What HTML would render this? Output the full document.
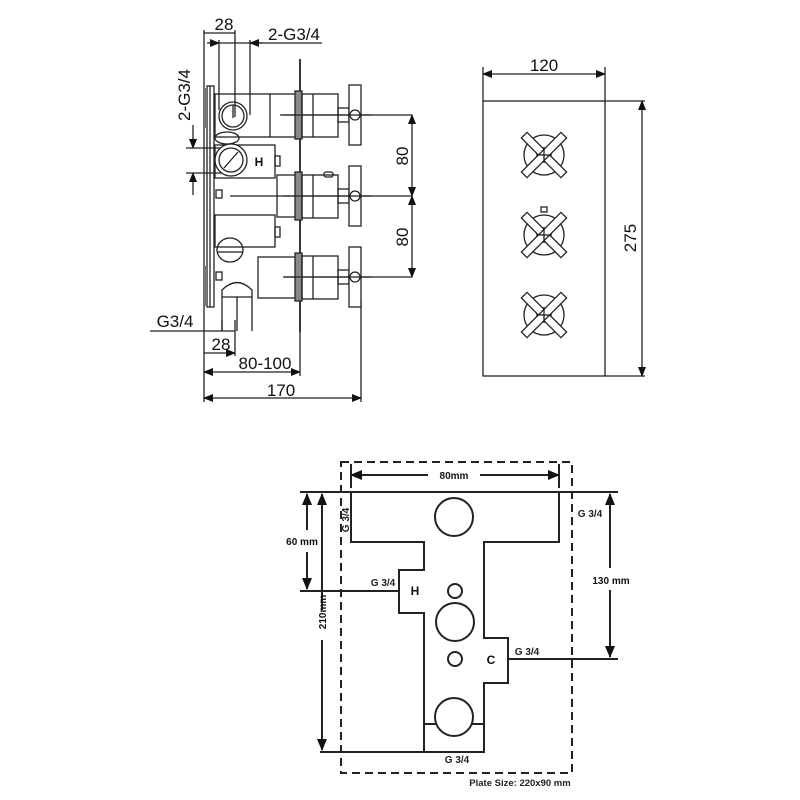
<!DOCTYPE html>
<html><head><meta charset="utf-8"><style>
html,body{margin:0;padding:0;background:#fff;width:800px;height:800px;overflow:hidden}
svg{display:block}
.t{font-family:"Liberation Sans",sans-serif;fill:#111}
.p{font-family:"Liberation Sans",sans-serif;fill:#222;font-size:10px}
</style></head><body>
<svg width="800" height="800" viewBox="0 0 800 800" xmlns="http://www.w3.org/2000/svg">
<defs>
<marker id="a" markerWidth="10" markerHeight="8" refX="9" refY="4" orient="auto-start-reverse" markerUnits="userSpaceOnUse"><path d="M0,0 L10,4 L0,8 Z" fill="#111"/></marker>
<marker id="b" markerWidth="12" markerHeight="10" refX="11" refY="5" orient="auto-start-reverse" markerUnits="userSpaceOnUse"><path d="M0,0 L12,5 L0,10 Z" fill="#111"/></marker>
</defs>

<!-- ===== Left side view ===== -->
<g stroke="#222" stroke-width="1.3" fill="none">
  <line x1="204" y1="30" x2="204" y2="402"/>
  <line x1="235" y1="30" x2="235" y2="117"/>
  <line x1="219" y1="40" x2="219" y2="110"/>
  <line x1="250" y1="40" x2="250" y2="115"/>
  <line x1="361" y1="300" x2="361" y2="402"/>
  <line x1="204" y1="33" x2="235" y2="33"/>
  <line x1="219" y1="43" x2="322" y2="43"/>
  <line x1="207" y1="43" x2="219" y2="43" marker-end="url(#a)"/>
  <line x1="262" y1="43" x2="250" y2="43" marker-end="url(#a)"/>
  <line x1="193" y1="125" x2="193" y2="148" marker-end="url(#a)"/>
  <line x1="193" y1="195" x2="193" y2="173" marker-end="url(#a)"/>
  <line x1="186" y1="148" x2="232" y2="148"/>
  <line x1="186" y1="173" x2="232" y2="173"/>
  <line x1="150" y1="331" x2="235" y2="331"/>
  <line x1="222" y1="320" x2="222" y2="331"/>
  <line x1="235" y1="320" x2="235" y2="356"/>
  <line x1="222" y1="353" x2="235" y2="353" marker-end="url(#a)"/>
  <line x1="204" y1="353" x2="222" y2="353"/>
  <line x1="204" y1="372" x2="300" y2="372" marker-start="url(#a)" marker-end="url(#a)"/>
  <line x1="300" y1="332" x2="300" y2="376"/>
  <line x1="204" y1="398" x2="361" y2="398" marker-start="url(#a)" marker-end="url(#a)"/>
  <line x1="280" y1="115" x2="412" y2="115"/>
  <line x1="230" y1="196" x2="412" y2="196"/>
  <line x1="285" y1="277" x2="412" y2="277"/>
  <line x1="412" y1="115" x2="412" y2="196" marker-start="url(#a)" marker-end="url(#a)"/>
  <line x1="412" y1="196" x2="412" y2="277" marker-start="url(#a)" marker-end="url(#a)"/>

  <rect x="207" y="86" width="7" height="221"/>
  <line x1="210" y1="86" x2="210" y2="307"/>
  <rect x="204" y="88" width="3" height="40" fill="#777" stroke="none"/>
  <rect x="204" y="266" width="3" height="40" fill="#777" stroke="none"/>
  <line x1="300" y1="59" x2="300" y2="332" stroke-width="1.8"/>
  <rect x="215" y="94" width="85" height="43"/>
  <line x1="270" y1="94" x2="270" y2="137"/>
  <circle cx="233" cy="116" r="14"/><circle cx="233" cy="116" r="11"/>
  <line x1="233" y1="105" x2="233" y2="118"/>
  <ellipse cx="227" cy="138" rx="12" ry="6"/>
  <rect x="215" y="145" width="60" height="33"/>
  <circle cx="231" cy="160" r="16" fill="#fff"/><circle cx="231" cy="160" r="12"/>
  <line x1="224" y1="168" x2="238" y2="152"/>
  <text x="259" y="166" class="t" font-size="12" font-weight="bold" stroke="none" text-anchor="middle">H</text>
  <rect x="275" y="156" width="5" height="10"/>
  <rect x="277" y="175" width="23" height="42"/>
  <rect x="215" y="215" width="60" height="32"/>
  <rect x="275" y="227" width="5" height="10"/>
  <rect x="216" y="190" width="6" height="8"/>
  <ellipse cx="230" cy="250" rx="13" ry="12"/>
  <line x1="217" y1="252" x2="243" y2="252"/>
  <rect x="258" y="257" width="42" height="41"/>
  <rect x="216" y="272" width="6" height="8"/>
  <path d="M222,297 L222,331 M252,297 L252,331 M237,297 L237,331 M222,297 L222,290 Q237,275 252,290 L252,297 Z"/>
  <g id="k">
    <rect x="295" y="91" width="7" height="48" fill="#888"/>
    <rect x="302" y="94" width="36" height="43"/>
    <line x1="313" y1="94" x2="313" y2="137"/>
    <rect x="338" y="108" width="11" height="14"/>
    <rect x="349" y="85" width="12" height="60" fill="#fff"/>
    <circle cx="355" cy="115" r="5"/>
    <line x1="283" y1="115" x2="372" y2="115"/>
  </g>
  <use href="#k" transform="translate(0,81)"/>
  <use href="#k" transform="translate(0,162)"/>
  <rect x="324" y="172" width="9" height="5" rx="2"/>
</g>
<g class="t" font-size="17">
  <text x="224" y="30" text-anchor="middle">28</text>
  <text x="294" y="40" text-anchor="middle">2-G3/4</text>
  <text x="190" y="95" text-anchor="middle" transform="rotate(-90 190 95)">2-G3/4</text>
  <text x="175" y="327" text-anchor="middle">G3/4</text>
  <text x="221" y="350" text-anchor="middle">28</text>
  <text x="265" y="369" text-anchor="middle">80-100</text>
  <text x="281" y="396" text-anchor="middle">170</text>
  <text x="408" y="156" text-anchor="middle" transform="rotate(-90 408 156)">80</text>
  <text x="408" y="237" text-anchor="middle" transform="rotate(-90 408 237)">80</text>
</g>

<!-- ===== Right front view ===== -->
<g stroke="#222" stroke-width="1.3" fill="none">
  <rect x="483" y="101" width="122" height="275"/>
  <line x1="483" y1="67" x2="483" y2="101"/>
  <line x1="605" y1="67" x2="605" y2="101"/>
  <line x1="483" y1="74" x2="605" y2="74" marker-start="url(#a)" marker-end="url(#a)"/>
  <line x1="605" y1="101" x2="645" y2="101"/>
  <line x1="605" y1="376" x2="645" y2="376"/>
  <line x1="642" y1="101" x2="642" y2="376" marker-start="url(#a)" marker-end="url(#a)"/>
  <g id="x">
    <circle cx="544" cy="155" r="20"/>
    <g fill="#fff">
      <rect x="516" y="151" width="56" height="8" transform="rotate(45 544 155)"/>
      <rect x="516" y="151" width="56" height="8" transform="rotate(-45 544 155)"/>
    </g>
    <line x1="544" y1="147" x2="544" y2="163"/><line x1="536" y1="155" x2="552" y2="155"/>
  </g>
  <use href="#x" transform="translate(0,80)"/>
  <use href="#x" transform="translate(0,160)"/>
  <rect x="541" y="207" width="6" height="5"/>
</g>
<g class="t" font-size="17">
  <text x="544" y="71" text-anchor="middle">120</text>
  <text x="636" y="238" text-anchor="middle" transform="rotate(-90 636 238)">275</text>
</g>

<!-- ===== Bottom plan ===== -->
<rect x="341" y="462" width="231" height="311" fill="none" stroke="#222" stroke-width="2" stroke-dasharray="8,5"/>
<g stroke="#222" stroke-width="2" fill="none">
  <path d="M351,492 L559,492 L559,542 L484,542 L484,638 L508,638 L508,683 L484,683 L484,752 L424,752 L424,613 L399,613 L399,570 L424,570 L424,542 L351,542 Z"/>
  <line x1="300" y1="492" x2="618" y2="492"/>
  <line x1="300" y1="591" x2="399" y2="591"/>
  <line x1="508" y1="659" x2="618" y2="659"/>
  <line x1="320" y1="752" x2="424" y2="752"/>
  <line x1="424" y1="724" x2="484" y2="724"/>
  <circle cx="454" cy="517" r="19"/>
  <circle cx="455" cy="591" r="7"/>
  <circle cx="455" cy="622" r="19"/>
  <circle cx="455" cy="659" r="7"/>
  <circle cx="454" cy="717" r="19" fill="#fff"/>
  <line x1="351" y1="464" x2="351" y2="488"/>
  <line x1="559" y1="464" x2="559" y2="488"/>
  <line x1="351" y1="475" x2="428" y2="475" marker-start="url(#b)"/>
  <line x1="480" y1="475" x2="559" y2="475" marker-end="url(#b)"/>
  <line x1="307" y1="494" x2="307" y2="530" marker-start="url(#b)"/>
  <line x1="307" y1="552" x2="307" y2="589" marker-end="url(#b)"/>
  <line x1="322" y1="494" x2="322" y2="610" marker-start="url(#b)"/>
  <line x1="322" y1="640" x2="322" y2="750" marker-end="url(#b)"/>
  <line x1="610" y1="494" x2="610" y2="568" marker-start="url(#b)"/>
  <line x1="610" y1="590" x2="610" y2="657" marker-end="url(#b)"/>
</g>
<g class="t" font-size="11">
  <text x="454" y="479" text-anchor="middle" font-size="10" font-weight="600">80mm</text>
  <text x="302" y="545" text-anchor="middle" font-size="10" font-weight="600">60 mm</text>
  <text x="611" y="584" text-anchor="middle" font-size="10" font-weight="600">130 mm</text>
  <text x="326" y="612" text-anchor="middle" font-size="10" font-weight="600" transform="rotate(-90 326 612)">210mm</text>
  <text x="415" y="595" text-anchor="middle" font-weight="bold" font-size="12">H</text>
  <text x="491" y="664" text-anchor="middle" font-weight="bold" font-size="12">C</text>
</g>
<g class="p" font-weight="600">
  <text x="349" y="520" text-anchor="middle" transform="rotate(-90 349 520)">G 3/4</text>
  <text x="590" y="517" text-anchor="middle">G 3/4</text>
  <text x="383" y="586" text-anchor="middle">G 3/4</text>
  <text x="527" y="655" text-anchor="middle">G 3/4</text>
  <text x="457" y="763" text-anchor="middle">G 3/4</text>
  <text x="520" y="786" text-anchor="middle" font-size="9.5">Plate Size: 220x90 mm</text>
</g>
</svg>
</body></html>
